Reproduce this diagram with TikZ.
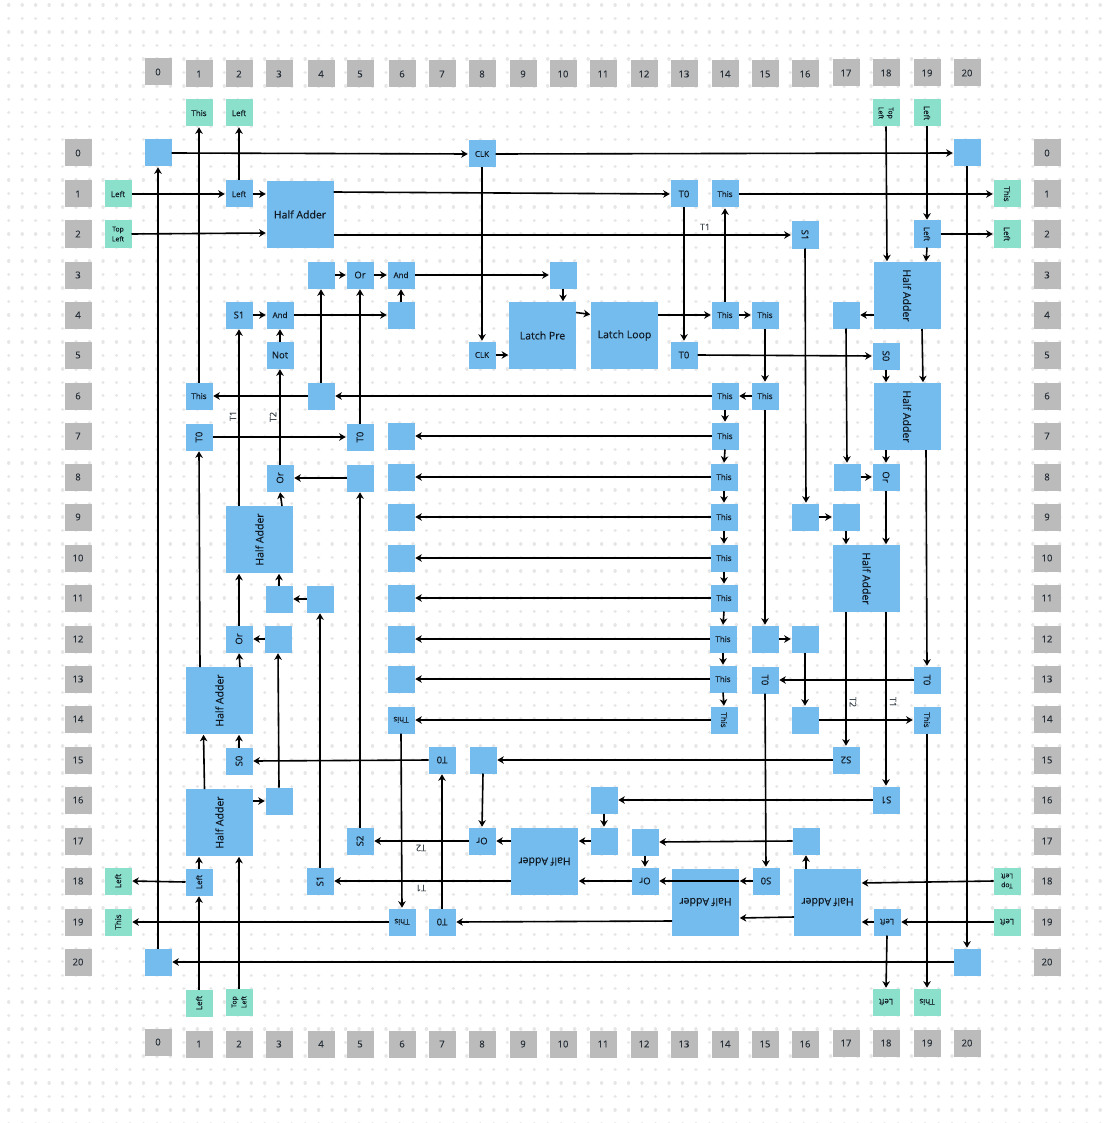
\documentclass[tikz,border=0pt]{standalone}
\usepackage{fontspec}
\usepackage{graphicx}
\setmainfont{Open Sans}[FakeBold=0.25]
\usetikzlibrary{arrows.meta}
\definecolor{blu}{HTML}{74BCEE}
\definecolor{grn}{HTML}{8BE0CC}
\definecolor{gry}{HTML}{BBBBBB}
\definecolor{ink}{HTML}{101A24}
\definecolor{dotc}{HTML}{E6E6E6}
\newcommand{\ccw}[1]{\rotatebox{90}{#1}}
\newcommand{\cwr}[1]{\rotatebox{-90}{#1}}
\newcommand{\ud}[1]{\rotatebox{180}{#1}}
\newcommand{\tl}{\shortstack{\fontsize{6.8}{7}\selectfont Top\\\fontsize{6.8}{7}\selectfont Left}}
\tikzset{
  cell/.style={rectangle,inner sep=0pt,outer sep=0pt,minimum size=27pt,text=ink,font=\fontsize{9.5}{10}\selectfont},
  small/.style={font=\fontsize{8}{9}\selectfont},
  bluebox/.style={cell,fill=blu},
  greenbox/.style={cell,fill=grn},
  head/.style={cell,fill=gry,text=ink!90,font=\fontsize{9.5}{10}\selectfont},
  big/.style={bluebox,minimum size=67pt,font=\fontsize{10.5}{12}\selectfont},
  conn/.style={draw=black,line width=1.6pt,-{Stealth[length=6.5pt,width=7.5pt,inset=2pt]},shorten >=0.8pt},
  tlabel/.style={inner sep=0pt,text=ink!80,font=\fontsize{9}{10}\selectfont},
  dotrow/.style={draw=dotc,line width=3.4pt,line cap=round,dash pattern=on 0.01pt off 13.465pt}
}
\begin{document}
\begin{tikzpicture}[x=1pt,y=-1pt]
\useasboundingbox (0,0) rectangle (1112,1123);
\fill[white] (0,0) rectangle (1112,1123);
\foreach \j in {0,...,83}{
  \draw[dotrow] (8.7,{5+13.475*\j}) -- (1104,{5+13.475*\j});}
% column headers
\foreach \n/\x/\yt/\yb in {0/158/72/1042,1/199/74/1044,2/239/74/1044,3/279/74/1044,4/321/74/1044,5/360/74/1044,6/402/74/1044,7/442/74/1044,8/482/74/1044,9/523/74/1044,10/563/74/1044,11/603/74/1044,12/644/74/1044,13/684/74/1044,14/725/74/1044,15/765/74/1044,16/805/74/1044,17/846/73/1043,18/886/73/1043,19/927/73/1043,20/967/73/1043}{
  \node[head] (top\n) at (\x,\yt) {\n};
  \node[head] (bot\n) at (\x,\yb) {\n};
}
% row headers
\foreach \n/\y in {0/153,1/194,2/234,3/275,4/315,5/355,6/396,7/436,8/477,9/517,10/558,11/598,12/639,13/679,14/719,15/760,16/800,17/841,18/881,19/922,20/962}{
  \node[head] (lft\n) at (78,\y) {\n};
  \node[head] (rgt\n) at (1047,\y) {\n};
}
% green terminals
\node[greenbox,small] (gTopThis) at (199,113) {This};
\node[greenbox,small] (gTopLeft) at (239,113) {Left};
\node[greenbox] (gTopTL) at (886,113) {\cwr{\tl}};
\node[greenbox,small] (gTopL) at (927,113) {\cwr{Left}};
\node[greenbox,small] (gLftL) at (118,194) {Left};
\node[greenbox] (gLftTL) at (118,234) {\tl};
\node[greenbox,small] (gRgtThis) at (1007,194) {\cwr{This}};
\node[greenbox,small] (gRgtL) at (1007,234) {\cwr{Left}};
\node[greenbox,small] (gLftBL) at (118,881) {\ccw{Left}};
\node[greenbox,small] (gLftBThis) at (118,922) {\ccw{This}};
\node[greenbox,small] (gBotL) at (199,1003) {\ccw{Left}};
\node[greenbox] (gBotTL) at (239,1002) {\ccw{\tl}};
\node[greenbox,small] (gBotRL) at (886,1002) {\ud{Left}};
\node[greenbox,small] (gBotRThis) at (927,1002) {\ud{This}};
\node[greenbox] (gRgtBTL) at (1007,881) {\ud{\tl}};
\node[greenbox,small] (gRgtBL) at (1007,922) {\ud{Left}};
% blue cells
\node[bluebox] (cTL) at (158,153) {};
\node[bluebox,small] (clkA) at (482,154) {CLK};
\node[bluebox] (cTR) at (967,153) {};
\node[bluebox,small] (leftA) at (239,194) {Left};
\node[big] (haA) at (300,214.5) {Half Adder};
\node[bluebox] (t0A) at (684,194) {T0};
\node[bluebox,small] (thisA) at (725,194) {This};
\node[bluebox] (s1R) at (805,235) {\cwr{S1}};
\node[bluebox,small] (leftR) at (927,234) {\cwr{Left}};
\node[bluebox] (b3a) at (321,275) {};
\node[bluebox] (or3) at (360,275) {Or};
\node[bluebox,small] (and3) at (401,275) {And};
\node[bluebox] (b3r) at (563,275) {};
\node[big] (haB) at (907,295.5) {\cwr{Half Adder}};
\node[bluebox] (s1L) at (239,315) {S1};
\node[bluebox,small] (and4) at (280,315) {And};
\node[bluebox] (b4) at (401,315) {};
\node[big] (latchP) at (542.5,335.5) {Latch Pre};
\node[big] (latchL) at (624.5,335.5) {Latch Loop};
\node[bluebox,small] (this4a) at (725,315) {This};
\node[bluebox,small] (this4b) at (765,315) {This};
\node[bluebox] (b4r) at (846,315) {};
\node[bluebox] (not5) at (280,355) {Not};
\node[bluebox,small] (clkB) at (482,355) {CLK};
\node[bluebox] (t05) at (684,355) {T0};
\node[bluebox] (s05) at (886,356) {\cwr{S0}};
\node[bluebox,small] (this6L) at (199,396) {This};
\node[bluebox] (b6) at (321,396) {};
\node[bluebox,small] (this6a) at (725,396) {This};
\node[bluebox,small] (this6b) at (765,396) {This};
\node[big] (haC) at (907,416.5) {\cwr{Half Adder}};
\node[bluebox] (t07L) at (199,437) {\ccw{T0}};
\node[bluebox] (t07M) at (360,437) {\ccw{T0}};
\node[bluebox] (bl7) at (401,436) {};
\node[bluebox,small] (this7) at (725,436) {This};
\node[bluebox] (or8L) at (280,478) {\ccw{Or}};
\node[bluebox] (b8M) at (360,478) {};
\node[bluebox] (bl8) at (401,477) {};
\node[bluebox,small] (this8) at (724,477) {This};
\node[bluebox] (b8r) at (847,477) {};
\node[bluebox] (or8R) at (886,477) {\cwr{Or}};
\node[big] (haD) at (259.5,539.5) {\ccw{Half Adder}};
\node[bluebox] (bl9) at (401,517) {};
\node[bluebox,small] (this9) at (724,517) {This};
\node[bluebox] (b9a) at (805,517) {};
\node[bluebox] (b9b) at (846,517) {};
\node[bluebox] (bl10) at (401,558) {};
\node[bluebox,small] (this10) at (724,558) {This};
\node[big] (haE) at (866.5,578.5) {\cwr{Half Adder}};
\node[bluebox] (b11a) at (279,599) {};
\node[bluebox] (b11b) at (320,599) {};
\node[bluebox] (bl11) at (401,598) {};
\node[bluebox,small] (this11) at (724,598) {This};
\node[bluebox] (or12) at (239,639) {\ccw{Or}};
\node[bluebox] (b12L) at (278,639) {};
\node[bluebox] (bl12) at (401,639) {};
\node[bluebox,small] (this12) at (723,639) {This};
\node[bluebox] (b12a) at (765,639) {};
\node[bluebox] (b12b) at (805,639) {};
\node[big] (haF) at (219.5,700.5) {\ccw{Half Adder}};
\node[bluebox] (bl13) at (401,679) {};
\node[bluebox,small] (this13) at (723,679) {This};
\node[bluebox] (t013a) at (765,680) {\cwr{T0}};
\node[bluebox] (t013b) at (927,680) {\cwr{T0}};
\node[bluebox,small] (this14L) at (401,720) {\ud{This}};
\node[bluebox,small] (this14) at (724,720) {\cwr{This}};
\node[bluebox] (b14) at (805,720) {};
\node[bluebox,small] (this14R) at (927,720) {\cwr{This}};
\node[bluebox] (s015) at (239,761) {\ccw{S0}};
\node[bluebox] (t015) at (442,760) {\ud{T0}};
\node[bluebox] (b15) at (483,760) {};
\node[bluebox] (s215) at (846,760) {\ud{S2}};
\node[big] (haG) at (219.5,822.5) {\ccw{Half Adder}};
\node[bluebox] (b16L) at (279,801) {};
\node[bluebox] (b16) at (604,800) {};
\node[bluebox] (s116) at (886,800) {\ud{S1}};
\node[bluebox] (s217) at (360,841) {\ccw{S2}};
\node[bluebox] (or17) at (482,841) {\ud{Or}};
\node[big] (haH) at (544.5,861.5) {\ud{Half Adder}};
\node[bluebox] (b17a) at (604,841) {};
\node[bluebox] (b17b) at (645,842) {};
\node[bluebox] (b17c) at (806,841) {};
\node[bluebox,small] (left18) at (199,882) {\ccw{Left}};
\node[bluebox] (s118) at (320,881) {\ccw{S1}};
\node[bluebox] (or18) at (645,881) {\ud{Or}};
\node[big] (haI) at (705.5,902) {\ud{Half Adder}};
\node[bluebox] (s018) at (766,881) {\ud{S0}};
\node[big] (haJ) at (827.5,902) {\ud{Half Adder}};
\node[bluebox,small] (this19) at (402,922) {\ud{This}};
\node[bluebox] (t019) at (442,922) {\ud{T0}};
\node[bluebox,small] (left19) at (887,922) {\ud{Left}};
\node[bluebox] (cBL) at (158,962) {};
\node[bluebox] (cBR) at (967,962) {};
% labels on connectors
\node[tlabel] (lT1a) at (705,227) {T1};
\node[tlabel] (lT1b) at (233,416) {\ccw{T1}};
\node[tlabel] (lT2b) at (273,417) {\ccw{T2}};
\node[tlabel] (lT2c) at (853,702) {\cwr{T2}};
\node[tlabel] (lT1c) at (893,702) {\cwr{T1}};
\node[tlabel] (lT2d) at (421,848) {\ud{T2}};
\node[tlabel] (lT1d) at (421,888) {\ud{T1}};
% connectors
\begin{scope}[every path/.append style={conn}]
\draw (cTL.east) -- (clkA.west);
\draw (clkA.east) -- (cTR.west);
\draw (clkA.south) -- (clkB.north);
\draw (cTR.south) -- (cBR.north);
\draw (cBR.west) -- (cBL.east);
\draw (cBL.north) -- (cTL.south);
\draw (this6L.north) -- (gTopThis.south);
\draw (leftA.north) -- (gTopLeft.south);
\draw (gLftL.east) -- (leftA.west);
\draw (leftA.east) -- (haA.west |- leftA.east);
\draw (gLftTL.east) -- ([yshift=1pt]haA.west |- gLftTL.east);
\draw ([yshift=2pt]haA.east |- t0A.west) -- (t0A.west);
\draw (haA.east |- s1R.west) -- (s1R.west);
\draw (t0A.south) -- (t05.north);
\draw (thisA.east) -- (gRgtThis.west);
\draw (this4a.north) -- (thisA.south);
\draw (s1R.south) -- ([xshift=1pt]b9a.north);
\draw (gTopTL.south) -- ([xshift=1pt]haB.north -| gTopTL.south);
\draw (gTopL.south) -- (leftR.north);
\draw (leftR.south) -- ([xshift=-1pt]haB.north -| leftR.south);
\draw (leftR.east) -- (gRgtL.west);
\draw (b3a.east) -- (or3.west);
\draw (or3.east) -- (and3.west);
\draw (and3.east) -- (b3r.west);
\draw (b3r.south) -- (latchP.north -| b3r.south);
\draw (b4.north) -- (and3.south);
\draw (and4.east) -- (b4.west);
\draw (s1L.east) -- (and4.west);
\draw (not5.north) -- (and4.south);
\draw (or8L.north) -- (not5.south);
\draw (haD.north -| s1L.south) -- (s1L.south);
\draw (b6.north) -- (b3a.south);
\draw (this6a.west) -- (b6.east);
\draw (b6.west) -- (this6L.east);
\draw (t07M.north) -- (or3.south);
\draw (t07L.east) -- (t07M.west);
\draw ([xshift=1pt]haF.north -| t07L.south) -- (t07L.south);
\draw (b8M.west) -- (or8L.east);
\draw ([xshift=2pt]haD.north -| or8L.south) -- (or8L.south);
\draw (s217.north) -- (b8M.south);
\draw (clkB.east) -- (latchP.west |- clkB.east);
\draw ([yshift=23pt]latchP.east) -- ([yshift=21pt]latchL.west);
\draw (latchL.east |- this4a.west) -- (this4a.west);
\draw (this4a.east) -- (this4b.west);
\draw (this4b.south) -- (this6b.north);
\draw (this6b.west) -- (this6a.east);
\draw (t05.east) -- (s05.west);
\draw (s05.south) -- (haC.north -| s05.south);
\draw ([xshift=15pt]haB.south) -- ([xshift=16pt]haC.north);
\draw (haB.west |- b4r.east) -- (b4r.east);
\draw (b4r.south) -- (b8r.north);
\draw (b8r.east) -- (or8R.west);
\draw (haC.south -| or8R.north) -- (or8R.north);
\draw (or8R.south) -- (haE.north -| or8R.south);
\draw (b9a.east) -- (b9b.west);
\draw (b9b.south) -- (haE.north -| b9b.south);
\draw ([xshift=-1pt]haC.south -| t013b.north) -- (t013b.north);
% This chain
\draw (this6a.south) -- (this7.north);
\draw (this7.south) -- (this8.north);
\draw (this8.south) -- (this9.north);
\draw (this9.south) -- (this10.north);
\draw (this10.south) -- (this11.north);
\draw (this11.south) -- (this12.north);
\draw (this12.south) -- (this13.north);
\draw (this13.south) -- (this14.north);
\draw (this7.west) -- (bl7.east);
\draw (this8.west) -- (bl8.east);
\draw (this9.west) -- (bl9.east);
\draw (this10.west) -- (bl10.east);
\draw (this11.west) -- (bl11.east);
\draw (this12.west) -- (bl12.east);
\draw (this13.west) -- (bl13.east);
\draw (this14.west) -- (this14L.east);
%
\draw (this6b.south) -- (b12a.north);
\draw (b12a.east) -- (b12b.west);
\draw (b12b.south) -- (b14.north);
\draw (b14.east) -- (this14R.west);
\draw (t013b.west) -- (t013a.east);
\draw (t013a.south) -- (s018.north);
\draw (this14R.south) -- (gBotRThis.north);
\draw (haE.south -| s215.north) -- (s215.north);
\draw (haE.south -| s116.north) -- (s116.north);
\draw (s215.west) -- (b15.east);
\draw (b15.south) -- (or17.north);
\draw (s116.west) -- (b16.east);
\draw (b16.south) -- (b17a.north);
\draw (b17a.west) -- (haH.east |- b17a.west);
\draw (haH.west |- or17.east) -- (or17.east);
\draw (or17.west) -- (s217.east);
\draw (haH.west |- s118.east) -- (s118.east);
\draw (or18.west) -- (haH.east |- or18.west);
\draw (haI.east |- or18.east) -- (or18.east);
\draw (b17b.south) -- (or18.north);
\draw (b17c.west) -- (b17b.east);
\draw (haJ.north -| b17c.south) -- (b17c.south);
\draw (s018.west) -- (haI.east |- s018.west);
\draw (gRgtBTL.west) -- ([yshift=-2pt]haJ.east |- gRgtBTL.west);
\draw (gRgtBL.west) -- (left19.east);
\draw (left19.west) -- (haJ.east |- left19.west);
\draw (left19.south) -- (gBotRL.north);
\draw ([yshift=-15pt]haJ.west) -- ([yshift=-16pt]haI.east);
\draw ([yshift=-19pt]haI.west) -- (t019.east);
\draw (t019.north) -- (t015.south);
\draw (t015.west) -- (s015.east);
\draw (s015.north) -- (haF.south -| s015.north);
\draw ([xshift=-15pt]haG.north) -- ([xshift=-16pt]haF.south);
\draw (haG.east |- b16L.west) -- (b16L.west);
\draw (b16L.north) -- (b12L.south);
\draw (b12L.west) -- (or12.east);
\draw (or12.north) -- (haD.south -| or12.north);
\draw ([xshift=1pt]haF.north -| or12.south) -- (or12.south);
\draw (b11a.north) -- (haD.south -| b11a.north);
\draw (b11b.west) -- (b11a.east);
\draw (s118.north) -- (b11b.south);
\draw (left18.north) -- (haG.south -| left18.north);
\draw (left18.west) -- (gLftBL.east);
\draw (gBotL.north) -- (left18.south);
\draw (gBotTL.north) -- (haG.south -| gBotTL.north);
\draw (this14L.south) -- (this19.north);
\draw (this19.west) -- (gLftBThis.east);
\end{scope}
\end{tikzpicture}
\end{document}
